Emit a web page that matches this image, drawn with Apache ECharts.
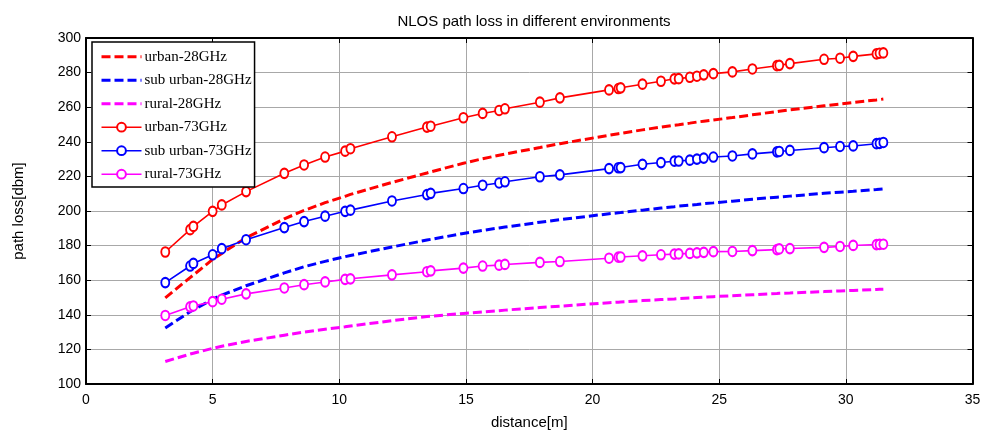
<!DOCTYPE html>
<html>
<head>
<meta charset="utf-8">
<title>NLOS path loss</title>
<script src="https://cdn.jsdelivr.net/npm/echarts@6/dist/echarts.min.js"></script>
<style>
  html, body { margin: 0; padding: 0; background: #fff; }
  #chart { width: 986px; height: 435px; }
</style>
</head>
<body>
<div id="chart"></div>
<script>
// Transmitter–receiver separations (m)
const distance = [
  3.13, 4.11, 4.24, 5.00, 5.36, 6.32, 7.83, 8.61, 9.44, 10.23, 10.44,
  12.08, 13.46, 13.61, 14.90, 15.66, 16.31, 16.54, 17.92, 18.71,
  20.65, 21.02, 21.11, 21.97, 22.70, 23.23, 23.40, 23.84, 24.12, 24.39, 24.77,
  25.52, 26.31, 27.28, 27.37, 27.79, 29.14, 29.77, 30.29, 31.21, 31.33, 31.48
];

// 28 GHz path loss (dB)
const urban28 = [
  149.8, 161.5, 163.0, 172.0, 175.5, 184.5, 195.5, 200.3, 204.8, 208.5, 209.6,
  216.5, 222.0, 222.6, 227.6, 230.2, 232.2, 232.9, 236.7, 238.9,
  243.8, 244.7, 244.9, 246.9, 248.5, 249.6, 249.9, 250.8, 251.4, 251.9, 252.6,
  254.0, 255.6, 257.5, 257.7, 258.5, 260.8, 261.8, 262.7, 264.2, 264.4, 264.7
];
const suburban28 = [
  132.4, 141.8, 142.8, 149.0, 151.4, 156.8, 164.2, 167.8, 170.9, 173.6, 174.3,
  179.2, 183.2, 183.6, 187.0, 188.8, 190.2, 190.7, 193.5, 195.0,
  198.4, 199.0, 199.1, 200.5, 201.7, 202.5, 202.8, 203.4, 203.8, 204.2, 204.7,
  205.7, 206.8, 208.0, 208.1, 208.6, 210.2, 210.9, 211.4, 212.4, 212.6, 212.8
];
const rural28 = [
  113.0, 117.3, 117.8, 120.6, 121.8, 124.6, 128.2, 130.0, 131.7, 133.1, 133.5,
  136.6, 139.0, 139.2, 140.8, 141.6, 142.4, 142.7, 144.2, 145.0,
  147.0, 147.3, 147.4, 148.2, 148.8, 149.2, 149.4, 149.7, 150.0, 150.2, 150.5,
  151.0, 151.6, 152.3, 152.4, 152.6, 153.4, 153.8, 154.1, 154.6, 154.7, 154.8
];

// 73 GHz path loss (dB)
const urban73 = [
  176.3, 189.2, 191.1, 199.8, 203.5, 211.2, 221.8, 226.6, 231.2, 234.6, 236.0,
  242.9, 248.5, 249.0, 253.9, 256.4, 258.1, 259.1, 262.9, 265.4,
  270.0, 270.8, 271.2, 273.3, 275.0, 276.4, 276.5, 277.3, 277.9, 278.7, 279.4,
  280.4, 282.1, 284.0, 284.2, 285.2, 287.7, 288.3, 289.4, 290.8, 291.2, 291.4
];
const suburban73 = [
  158.6, 168.2, 169.7, 174.7, 178.2, 183.4, 190.4, 193.9, 197.0, 199.8, 200.5,
  205.8, 209.5, 210.2, 213.0, 214.9, 216.2, 216.9, 219.8, 220.9,
  224.5, 225.0, 225.1, 227.0, 228.0, 228.8, 228.9, 229.4, 230.0, 230.6, 231.2,
  231.8, 233.0, 234.2, 234.4, 235.0, 236.6, 237.3, 237.6, 238.9, 239.1, 239.6
];
const rural73 = [
  139.6, 144.6, 145.1, 147.6, 149.0, 152.1, 155.5, 157.4, 159.0, 160.5, 160.8,
  163.1, 164.9, 165.4, 167.0, 168.2, 168.7, 169.1, 170.3, 170.8,
  172.7, 173.3, 173.4, 174.1, 174.7, 175.1, 175.2, 175.5, 175.8, 176.1, 176.5,
  176.6, 177.1, 177.7, 178.1, 178.3, 179.0, 179.5, 180.1, 180.6, 180.7, 180.8
];

const seriesNames = [
  'urban-28GHz', 'sub urban-28GHz', 'rural-28GHz',
  'urban-73GHz', 'sub urban-73GHz', 'rural-73GHz'
];
const seriesValues = [urban28, suburban28, rural28, urban73, suburban73, rural73];
const seriesColors = ['#ff0000', '#0000ff', '#ff00ff', '#ff0000', '#0000ff', '#ff00ff'];

const sansFont = '"Liberation Sans", Arial, sans-serif';
const serifFont = '"Liberation Serif", "Times New Roman", serif';

const pairs = vals => distance.map((d, i) => [d, vals[i]]);

const series = seriesNames.map((name, k) => {
  const dashed = k < 3;
  return {
    name,
    type: 'line',
    data: pairs(seriesValues[k]),
    xAxisIndex: 0,
    yAxisIndex: 0,
    color: seriesColors[k],
    showSymbol: !dashed,
    symbol: dashed ? 'none' : 'emptyCircle',
    symbolSize: [8, 9.5],
    itemStyle: { color: seriesColors[k], borderColor: seriesColors[k], borderWidth: 1.4 },
    lineStyle: dashed
      ? { color: seriesColors[k], width: 3, type: [9, 4] }
      : { color: seriesColors[k], width: 1.6 },
    z: 3,
    silent: true
  };
});

const axisLine = { show: true, onZero: false, lineStyle: { color: '#000', width: 2 } };
const innerTick = { show: true, inside: true, length: 5, lineStyle: { color: '#000', width: 1 } };
const gridLine = { show: true, lineStyle: { color: '#a8a8a8', width: 1 } };

const chart = echarts.init(document.getElementById('chart'), null, { renderer: 'canvas' });
chart.setOption({
  animation: false,
  backgroundColor: '#ffffff',
  title: {
    text: 'NLOS path loss in different environments',
    left: 529,
    textAlign: 'center',
    top: 9,
    textStyle: { fontFamily: sansFont, fontSize: 15, fontWeight: 'normal', color: '#000' }
  },
  legend: {
    orient: 'vertical',
    left: 92,
    top: 42,
    padding: [7, 3, 5, 8],
    itemWidth: 40,
    itemHeight: 11,
    itemGap: 8.1,
    backgroundColor: '#ffffff',
    borderColor: '#000',
    borderWidth: 1.5,
    borderRadius: 0,
    selectedMode: false,
    textStyle: { fontFamily: serifFont, fontSize: 15, color: '#000', padding: [0, 0, 0, -2], lineHeight: 15.4 },
    // dashed entries show only their line; solid entries keep the hollow marker
    data: seriesNames.map((name, k) => (k < 3
      ? { name, lineStyle: { width: 3, type: [9, 4] }, itemStyle: { opacity: 0 } }
      : { name, lineStyle: { width: 1.6 } })),
    z: 10
  },
  grid: { left: 86, right: 13.5, top: 38, bottom: 50, containLabel: false },
  xAxis: [
    {
      type: 'value', position: 'bottom', min: 0, max: 35, interval: 5,
      name: 'distance[m]', nameLocation: 'middle', nameGap: 31,
      nameTextStyle: { fontFamily: sansFont, fontSize: 15, color: '#000' },
      axisLine, axisTick: innerTick,
      axisLabel: { fontFamily: sansFont, fontSize: 14, color: '#000', margin: 9 },
      splitLine: gridLine
    },
    {
      type: 'value', position: 'top', min: 0, max: 35, interval: 5,
      axisLine, axisTick: innerTick, axisLabel: { show: false }, splitLine: { show: false }
    }
  ],
  yAxis: [
    {
      type: 'value', position: 'left', min: 100, max: 300, interval: 20,
      name: 'path loss[dbm]', nameLocation: 'middle', nameGap: 60, nameRotate: 90,
      nameTextStyle: { fontFamily: sansFont, fontSize: 15, color: '#000' },
      axisLine, axisTick: innerTick,
      axisLabel: { fontFamily: sansFont, fontSize: 14, color: '#000', margin: 5 },
      splitLine: gridLine
    },
    {
      type: 'value', position: 'right', min: 100, max: 300, interval: 20,
      axisLine, axisTick: innerTick, axisLabel: { show: false }, splitLine: { show: false }
    }
  ],
  series
});
</script>
</body>
</html>
